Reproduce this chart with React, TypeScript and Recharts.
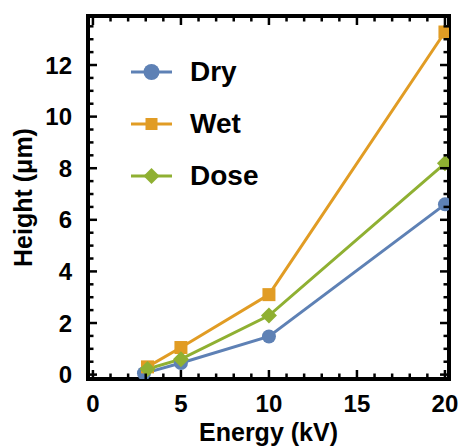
import React from 'react';
import { LineChart, Line, XAxis, YAxis, Legend } from 'recharts';

// ---- data ----
const seriesNames = ['Dry', 'Wet', 'Dose'];
const energyDry = [2.9, 5, 10, 20];
const heightDry = [0.05, 0.45, 1.48, 6.6];
const energyWet = [3.1, 5, 10, 20];
const heightWet = [0.3, 1.05, 3.1, 13.28];
const energyDose = [3.1, 5, 10, 20];
const heightDose = [0.22, 0.6, 2.29, 8.19];

const xTicks = [0, 1, 2, 3, 4, 5, 6, 7, 8, 9, 10, 11, 12, 13, 14, 15, 16, 17, 18, 19, 20];
const xMajorTicks = [0, 5, 10, 15, 20];
const yTicks = [0, 0.5, 1, 1.5, 2, 2.5, 3, 3.5, 4, 4.5, 5, 5.5, 6, 6.5, 7, 7.5, 8, 8.5, 9, 9.5, 10, 10.5, 11, 11.5, 12, 12.5, 13, 13.5];
const yMajorTicks = [0, 2, 4, 6, 8, 10, 12];
const xDomain = [-0.28, 20.23];
const yDomain = [-0.17, 13.9];

const xLabel = 'Energy (kV)';
const yLabel = 'Height (μm)';

// ---- styles ----
const COLORS = ['#5e81b5', '#e19c24', '#8fb032'];
const FONT = '"Liberation Sans", Arial, Helvetica, sans-serif';
const MAJOR = 9;
const MINOR = 5.5;
const TICK_W = 2.5;

const toRows = (xs: number[], ys: number[]) => xs.map((x, i) => ({ x, y: ys[i] }));
const dryData = toRows(energyDry, heightDry);
const wetData = toRows(energyWet, heightWet);
const doseData = toRows(energyDose, heightDose);

const Marker = ({ shape, cx, cy, color, size }: any) => {
  if (cx == null || cy == null) return null;
  if (shape === 'circle') return <circle cx={cx} cy={cy} r={size} fill={color} />;
  if (shape === 'square')
    return <rect x={cx - size} y={cy - size} width={size * 2} height={size * 2} fill={color} />;
  return (
    <polygon
      points={`${cx},${cy - size} ${cx + size},${cy} ${cx},${cy + size} ${cx - size},${cy}`}
      fill={color}
    />
  );
};

const makeDot = (shape: string, color: string, size: number) => (props: any) => (
  <Marker key={`${shape}-${props.index}`} shape={shape} cx={props.cx} cy={props.cy} color={color} size={size} />
);

const BottomTick = (props: any) => {
  const { x, y, payload } = props;
  const v = payload.value;
  const major = xMajorTicks.includes(v);
  return (
    <g>
      <line x1={x} x2={x} y1={y} y2={y - (major ? MAJOR : MINOR)} stroke="#000" strokeWidth={TICK_W} />
      {major && (
        <text x={x} y={y + 33} textAnchor="middle" fontFamily={FONT} fontWeight="bold" fontSize={24} fill="#000">
          {v}
        </text>
      )}
    </g>
  );
};

const TopTick = (props: any) => {
  const { x, y, payload } = props;
  const major = xMajorTicks.includes(payload.value);
  return <line x1={x} x2={x} y1={y} y2={y + (major ? MAJOR : MINOR)} stroke="#000" strokeWidth={TICK_W} />;
};

const LeftTick = (props: any) => {
  const { x, y, payload } = props;
  const v = payload.value;
  const major = yMajorTicks.includes(v);
  return (
    <g>
      <line x1={x} x2={x + (major ? MAJOR : MINOR)} y1={y} y2={y} stroke="#000" strokeWidth={TICK_W} />
      {major && (
        <text x={x - 16} y={y + 8.5} textAnchor="end" fontFamily={FONT} fontWeight="bold" fontSize={24} fill="#000">
          {v}
        </text>
      )}
    </g>
  );
};

const RightTick = (props: any) => {
  const { x, y, payload } = props;
  const major = yMajorTicks.includes(payload.value);
  return <line x1={x} x2={x - (major ? MAJOR : MINOR)} y1={y} y2={y} stroke="#000" strokeWidth={TICK_W} />;
};

const frameLine = { stroke: '#000', strokeWidth: 4, strokeLinecap: 'square' as const };

const shapes = ['circle', 'square', 'diamond'];
const legendSizes = [8, 6, 8];

const renderLegend = () => (
  <div style={{ display: 'flex', flexDirection: 'column' }}>
    {seriesNames.map((name, i) => (
      <div key={name} style={{ display: 'flex', alignItems: 'center', height: 52 }}>
        <svg width={41} height={26} style={{ display: 'block' }}>
          <line x1={0} x2={41} y1={13} y2={13} stroke={COLORS[i]} strokeWidth={3} />
          <Marker shape={shapes[i]} cx={20.5} cy={13} color={COLORS[i]} size={legendSizes[i]} />
        </svg>
        <span
          style={{
            marginLeft: 18,
            fontFamily: FONT,
            fontWeight: 'bold',
            fontSize: 28,
            color: '#000',
            lineHeight: '32px',
          }}
        >
          {name}
        </span>
      </div>
    ))}
  </div>
);

export default function App() {
  return (
    <div style={{ position: 'absolute', left: 0, top: 0 }}>
      <LineChart width={458} height={446} margin={{ top: 6, right: 4, bottom: 7, left: 8 }}>
        <XAxis
          xAxisId="bottom"
          type="number"
          dataKey="x"
          domain={xDomain}
          allowDataOverflow
          ticks={xTicks}
          interval={0}
          tickSize={0}
          tickMargin={0}
          tickLine={false}
          height={60}
          axisLine={frameLine}
          tick={BottomTick}
          label={{
            content: (p: any) => {
              const vb = p.viewBox;
              return (
                <text
                  x={vb.x + vb.width / 2}
                  y={vb.y + 61.5}
                  textAnchor="middle"
                  fontFamily={FONT}
                  fontWeight="bold"
                  fontSize={25}
                  fill="#000"
                >
                  {xLabel}
                </text>
              );
            },
          }}
        />
        <XAxis
          xAxisId="top"
          orientation="top"
          type="number"
          dataKey="x"
          domain={xDomain}
          allowDataOverflow
          ticks={xTicks}
          interval={0}
          tickSize={0}
          tickMargin={0}
          tickLine={false}
          height={10}
          axisLine={frameLine}
          tick={TopTick}
        />
        <YAxis
          yAxisId="left"
          type="number"
          dataKey="y"
          domain={yDomain}
          allowDataOverflow
          ticks={yTicks}
          interval={0}
          tickSize={0}
          tickMargin={0}
          tickLine={false}
          width={80}
          axisLine={frameLine}
          tick={LeftTick}
          label={{
            content: (p: any) => {
              const vb = p.viewBox;
              const cx = 31.5;
              const cy = vb.y + vb.height / 2;
              return (
                <text
                  x={cx}
                  y={cy}
                  transform={`rotate(-90, ${cx}, ${cy})`}
                  textAnchor="middle"
                  fontFamily={FONT}
                  fontWeight="bold"
                  fontSize={25}
                  fill="#000"
                >
                  {yLabel}
                </text>
              );
            },
          }}
        />
        <YAxis
          yAxisId="right"
          orientation="right"
          type="number"
          dataKey="y"
          domain={yDomain}
          allowDataOverflow
          ticks={yTicks}
          interval={0}
          tickSize={0}
          tickMargin={0}
          tickLine={false}
          width={5}
          axisLine={frameLine}
          tick={RightTick}
        />
        <Legend
          layout="vertical"
          align="center"
          verticalAlign="middle"
          wrapperStyle={{ left: 131, top: 45.5, width: 'auto', height: 'auto' }}
          content={renderLegend}
        />
        <Line
          xAxisId="bottom"
          yAxisId="left"
          data={dryData}
          dataKey="y"
          name={seriesNames[0]}
          stroke={COLORS[0]}
          strokeWidth={3}
          dot={makeDot('circle', COLORS[0], 7)}
          activeDot={false}
          isAnimationActive={false}
        />
        <Line
          xAxisId="bottom"
          yAxisId="left"
          data={wetData}
          dataKey="y"
          name={seriesNames[1]}
          stroke={COLORS[1]}
          strokeWidth={3}
          dot={makeDot('square', COLORS[1], 6.5)}
          activeDot={false}
          isAnimationActive={false}
        />
        <Line
          xAxisId="bottom"
          yAxisId="left"
          data={doseData}
          dataKey="y"
          name={seriesNames[2]}
          stroke={COLORS[2]}
          strokeWidth={3}
          dot={makeDot('diamond', COLORS[2], 8)}
          activeDot={false}
          isAnimationActive={false}
        />
      </LineChart>
    </div>
  );
}
